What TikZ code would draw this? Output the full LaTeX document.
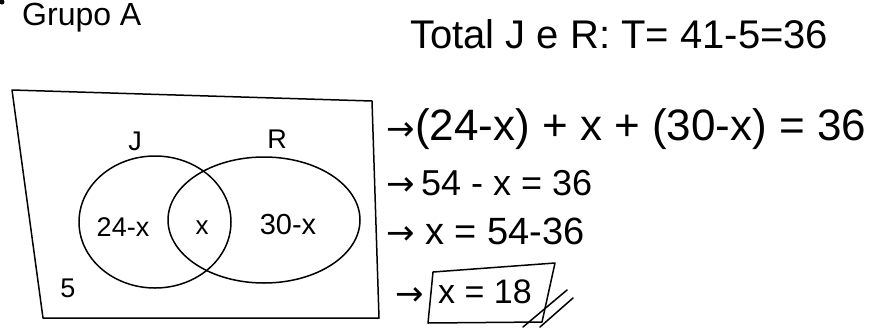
\documentclass[tikz,border=0pt]{standalone}
\usepackage{fontspec}
\setmainfont{Liberation Sans}
\newfontfamily\arrowfont{DejaVu Sans}
\begin{document}
\begin{tikzpicture}[x=1pt,y=-1pt,
  hand/.style={line width=1.5pt, line cap=round, line join=round},
  txt/.style={inner sep=0pt, text=black},
  eq/.style={txt, anchor=base west},
  arr/.style={txt, anchor=base west, font=\arrowfont\fontsize{34}{34}\selectfont}]
\useasboundingbox (0,0) rectangle (874,327);
% title
\fill (2,2) circle (2.5);
\node[txt, anchor=base west, font=\fontsize{32}{34}\selectfont] (grupo) at (22,25) {Grupo A};
\node[txt, anchor=west, font=\fontsize{40}{42}\selectfont] (total) at (410,34) {Total J e R: T= 41-5=36};
% universe rectangle
\draw[hand] (12,90) -- (372,101) -- (379,318) -- (43,318) -- cycle;
% sets
\draw[hand] (155,222) ellipse [x radius=76, y radius=66];
\draw[hand] (264,220) ellipse [x radius=96, y radius=63];
\node[txt, font=\fontsize{27}{27}\selectfont] (J) at (135,141) {J};
\node[txt, font=\fontsize{27}{27}\selectfont] (R) at (277,139) {R};
\node[txt, font=\fontsize{27}{28}\selectfont] (a) at (123,227) {24-x};
\node[txt, font=\fontsize{26}{26}\selectfont] (b) at (202,228) {x};
\node[txt, font=\fontsize{29}{29}\selectfont] (c) at (288,225) {30-x};
\node[txt, font=\fontsize{27}{27}\selectfont] (five) at (68,288) {5};
% equations
\node[arr] (a1) at (386,140) {→};
\node[eq, font=\fontsize{44}{46}\selectfont] (e1) at (a1.base east) {(24-x) + x + (30-x) = 36};
\node[arr] (a2) at (386,195) {→};
\node[eq, font=\fontsize{36}{38}\selectfont] (e2) at ([xshift=6pt]a2.base east) {54 - x = 36};
\node[arr] (a3) at (386,244) {→};
\node[eq, font=\fontsize{38}{40}\selectfont] (e3) at ([xshift=10pt]a3.base east) {x = 54-36};
\node[arr] (a4) at (395,305) {→};
\node[eq, font=\fontsize{34}{36}\selectfont] (res) at (438,303) {x = 18};
\draw[hand] (433,272) -- (555,263) -- (542,322) -- (428,323) -- cycle;
\draw[hand] (523,327) -- (567,290);
\draw[hand] (540,327) -- (573,298);
\end{tikzpicture}
\end{document}
